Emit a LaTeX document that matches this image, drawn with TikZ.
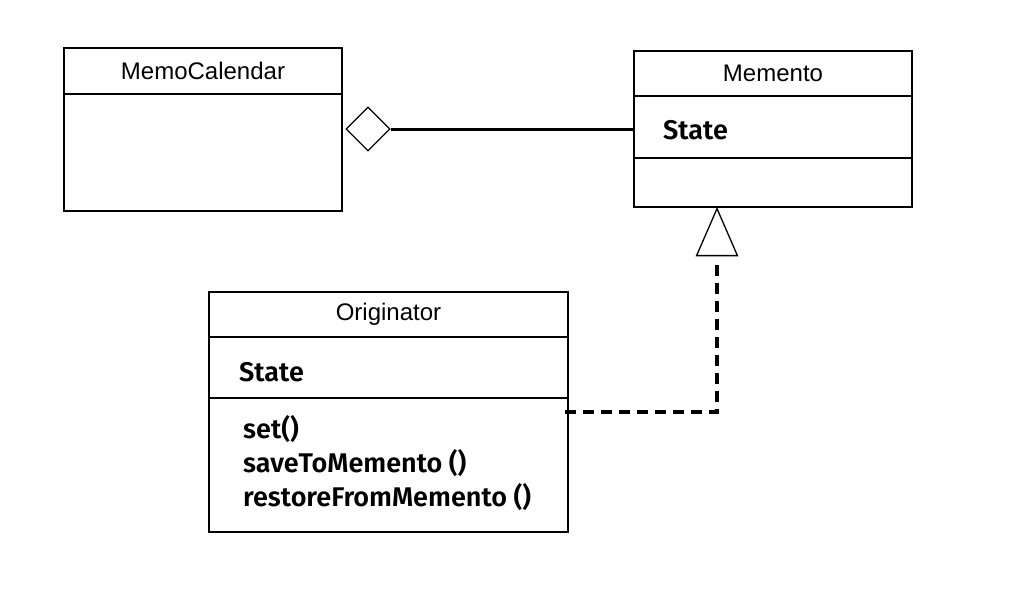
\documentclass[tikz,border=0pt]{standalone}
\usepackage{fontspec}
\setmainfont{Liberation Sans}
\newfontfamily\membfont{Fira Sans SemiBold}
\usetikzlibrary{positioning,shapes.geometric}
\tikzset{
  part/.style={draw, line width=2pt, inner sep=0pt, outer sep=0pt, anchor=north west},
  title/.style={font=\fontsize{24}{28}\selectfont},
  member/.style={font=\membfont\fontsize{27}{34}\selectfont, inner sep=0pt, align=left, anchor=base west},
  hollow/.style={draw, fill=white, line width=1.3pt, inner sep=0pt},
}
\newcommand{\compart}[4]{
  \node[part, minimum width=#3, minimum height=#4] (#1) at #2 {};
}

\begin{document}
\begin{tikzpicture}[x=1pt, y=-1pt]
      \useasboundingbox (0,0) rectangle (1012,606);

      % MemoCalendar
      \compart{calTitle}{(64,48)}{278}{46}
      \node[title] at (calTitle) {MemoCalendar};
      \node[part, minimum width=278, minimum height=117, anchor=north west] (calBody) at (calTitle.south west) {};

      % Memento
      \compart{memTitle}{(634,51)}{278}{45}
      \node[title] at (memTitle) {Memento};
      \node[part, minimum width=278, minimum height=62, anchor=north west] (memAttr) at (memTitle.south west) {};
      \node[part, minimum width=278, minimum height=49, anchor=north west] (memOps) at (memAttr.south west) {};
      \node[member] (memState) at ([xshift=29pt, yshift=-12pt]memAttr.west) {State};

      % Originator
      \compart{orgTitle}{(209,292)}{359}{45}
      \node[title] at (orgTitle) {Originator};
      \node[part, minimum width=359, minimum height=61, anchor=north west] (orgAttr) at (orgTitle.south west) {};
      \node[part, minimum width=359, minimum height=134, anchor=north west] (orgOps) at (orgAttr.south west) {};
      \node[member] (orgState) at ([xshift=30pt, yshift=-14pt]orgAttr.west) {State};
      \node[member] (orgMethods) at ([xshift=34pt, yshift=-41pt]orgOps.west)
        {set()\\saveToMemento ()\\restoreFromMemento ()};

      % aggregation
      \node[hollow, diamond, minimum width=44, minimum height=44] (agg) at (368,129) {};
      \draw[line width=3pt] (agg.east) -- (agg.east -| memAttr.west);

      % realization
      \node[hollow, isosceles triangle, isosceles triangle apex angle=47, shape border rotate=90,
            minimum height=47, anchor=apex] (real) at (memOps.south -| 717,0) {};
      \coordinate (bend) at (717,412);
      \coordinate (orgEnd) at ([xshift=-7pt]orgOps.east |- bend);
      \draw[line width=4pt, dash pattern=on 11pt off 7pt] ([yshift=-9pt]real.south) -- (bend) -- (orgEnd);
\end{tikzpicture}
\end{document}
